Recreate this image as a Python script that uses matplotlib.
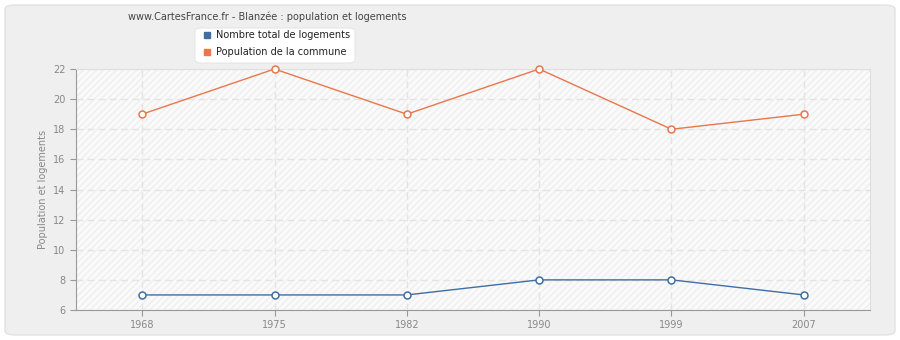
import matplotlib
matplotlib.use("Agg")
from matplotlib import pyplot as plt
from matplotlib.patches import FancyBboxPatch
from matplotlib.lines import Line2D

years = ['1968', '1975', '1982', '1990', '1999', '2007']
logements = [7, 7, 7, 8, 8, 7]
population = [19, 22, 19, 22, 18, 19]

blue = '#3f6fa3'
orange = '#e8774d'
fs = 7

fig = plt.figure(figsize=(9, 3.4), dpi=100)
fig.patch.set_facecolor('white')

# outer rounded panel, kept behind the axes
panel = FancyBboxPatch((5 / 900, 5 / 340), 890 / 900, 330 / 340,
                       boxstyle='round,pad=0,rounding_size=0.012',
                       transform=fig.transFigure, facecolor='#efefef',
                       edgecolor='#e2e2e2', linewidth=1.0, zorder=-10)
fig.patches.append(panel)

ax = fig.add_axes([76 / 900, 30 / 340, 794 / 900, 241 / 340])
ax.set_facecolor('#fafafa')

# light diagonal hatching in the plot area
x_pos = list(range(len(years)))
ax.fill_between([-0.5, 5.5], 6, 22, facecolor='none', edgecolor='#efefef',
                hatch='/////', linewidth=0, zorder=0)

ax.plot(x_pos, logements, color=blue, linewidth=1, marker='o', markersize=5,
        markerfacecolor='white', markeredgecolor=blue, markeredgewidth=1.1, zorder=3,
        clip_on=False)
ax.plot(x_pos, population, color=orange, linewidth=1, marker='o', markersize=5,
        markerfacecolor='white', markeredgecolor=orange, markeredgewidth=1.1, zorder=3,
        clip_on=False)

ax.set_xlim(-0.5, 5.5)
ax.set_ylim(6, 22)
ax.set_yticks(range(6, 23, 2))
ax.set_xticks(x_pos)
ax.set_xticklabels(years)

ax.grid(True, color='#e4e4e4', linestyle=(0, (5, 3)), linewidth=1)
ax.set_axisbelow(True)

for side in ['top', 'right']:
    ax.spines[side].set_color('#dedede')
for side in ['left', 'bottom']:
    ax.spines[side].set_color('#999999')

ax.tick_params(colors='#999999', labelcolor='#888888', labelsize=fs, length=4)
ax.set_ylabel('Population et logements', color='#888888', fontsize=fs)

fig.text(267 / 900, 1 - 17 / 340, 'www.CartesFrance.fr - Blanzée : population et logements',
         ha='center', va='center', fontsize=fs, color='#444444')

# legend box
leg_box = FancyBboxPatch((195 / 900, 1 - 63 / 340), 160 / 900, 35 / 340,
                         boxstyle='round,pad=0,rounding_size=0.008',
                         transform=fig.transFigure, facecolor='white',
                         edgecolor='#e6e6e6', linewidth=0.8, zorder=5)
fig.patches.append(leg_box)
for i, (label, col) in enumerate([('Nombre total de logements', blue),
                                  ('Population de la commune', orange)]):
    yy = 1 - (35 + 17 * i) / 340
    fig.add_artist(Line2D([207 / 900], [yy], marker='s', markersize=4, color=col,
                          linestyle='none', transform=fig.transFigure, zorder=6))
    fig.text(216 / 900, yy, label, ha='left', va='center', fontsize=fs,
             color='#222222', zorder=6)

fig.savefig('out.png', dpi=100, facecolor=fig.get_facecolor())
